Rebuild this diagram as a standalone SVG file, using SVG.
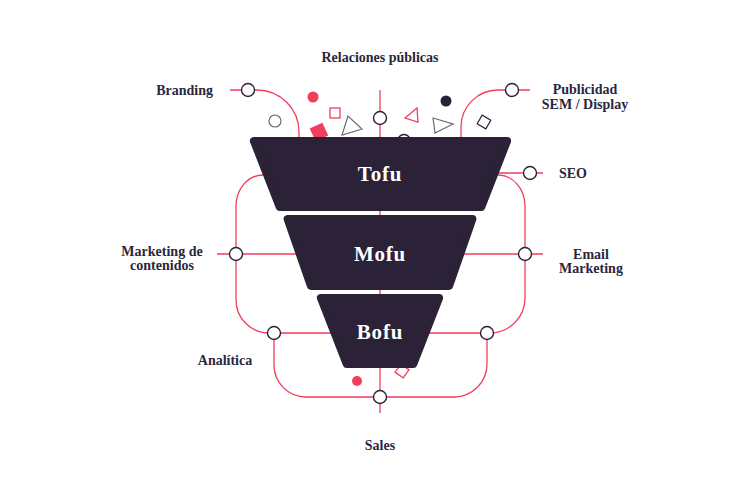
<svg xmlns="http://www.w3.org/2000/svg" width="746" height="501" viewBox="0 0 746 501">
<style>
.ln{fill:none;stroke:#f23d5d;stroke-width:1.3}
.nd{fill:#fff;stroke:#2b2238;stroke-width:1.4}
.fn{fill:#2b2238;stroke:#2b2238;stroke-width:8;stroke-linejoin:round}
.lb{font-family:"Liberation Serif","DejaVu Serif",serif;font-weight:bold;font-size:14px;fill:#2b2640}
.st{font-family:"Liberation Serif","DejaVu Serif",serif;font-weight:bold;font-size:21px;fill:#ffffff;letter-spacing:0.8px}
.gr{fill:none;stroke:#6b6b75;stroke-width:1.2}
.rs{fill:none;stroke:#f23d5d;stroke-width:1.3}
</style>
<rect width="746" height="501" fill="#ffffff"/>
<g id="connectors">
<path class="ln" d="M380,90 V413"/>
<path class="ln" d="M230,90 H257 A42,42 0 0 1 299,132 V140"/>
<path class="ln" d="M530,90 H498 A37,37 0 0 0 461,127 V140"/>
<path class="ln" d="M495,173 H543"/>
<path class="ln" d="M217,254 H300"/>
<path class="ln" d="M460,254 H543"/>
<path class="ln" d="M274,333 H335"/>
<path class="ln" d="M425,333 H487"/>
<path class="ln" d="M263,175 A27,31 0 0 0 236,206 V300 A33,33 0 0 0 269,333 H274 V365 A32,32 0 0 0 306,397 H454 A33,33 0 0 0 487,364 V333 H490 A35,35 0 0 0 525,298 V206 A27,31 0 0 0 498,175"/>
</g>
<g id="decorations">
<circle cx="275" cy="121" r="6" class="gr"/>
<circle cx="313" cy="97" r="5.5" fill="#f23d5d"/>
<rect x="330" y="108" width="10" height="10" class="rs"/>
<rect x="312" y="125" width="14" height="14" fill="#f23d5d" transform="rotate(-25 319 132)"/>
<polygon points="348,116 342,135 362,129" class="gr"/>
<polygon points="417,108 405,118 418,122" class="rs"/>
<circle cx="446" cy="101" r="5.5" fill="#2b2238"/>
<polygon points="433,118 435,133 453,124" class="gr"/>
<rect x="479" y="117" width="10" height="10" fill="none" stroke="#2b2238" stroke-width="1.2" transform="rotate(30 484 122)"/>
<circle cx="404" cy="141" r="6.5" class="nd"/>
<circle cx="357" cy="381" r="5" fill="#f23d5d"/>
<rect x="397" y="366" width="10" height="10" class="rs" transform="rotate(35 402 371)"/>
</g>
<g id="tofu">
<polygon class="fn" points="253.9,141 507.1,141 481.3,207 279.7,207"/>
<text class="st" x="380" y="181" text-anchor="middle">Tofu</text>
</g>
<g id="mofu">
<polygon class="fn" points="287.6,219 472.4,219 449.1,286 310.9,286"/>
<text class="st" x="380" y="261" text-anchor="middle">Mofu</text>
</g>
<g id="bofu">
<polygon class="fn" points="320.9,298 439.1,298 413.3,364 346.7,364"/>
<text class="st" x="380" y="339" text-anchor="middle">Bofu</text>
</g>
<g id="relaciones">
<circle cx="380" cy="118" r="6.5" class="nd"/>
<text class="lb" x="380" y="62" text-anchor="middle">Relaciones públicas</text>
</g>
<g id="branding">
<circle cx="248" cy="90" r="6.5" class="nd"/>
<text class="lb" x="213" y="95" text-anchor="end">Branding</text>
</g>
<g id="publicidad">
<circle cx="512" cy="90" r="6.5" class="nd"/>
<text class="lb" x="585" y="94" text-anchor="middle">Publicidad</text>
<text class="lb" x="585" y="109" text-anchor="middle">SEM / Display</text>
</g>
<g id="seo">
<circle cx="530" cy="173" r="6.5" class="nd"/>
<text class="lb" x="559" y="178">SEO</text>
</g>
<g id="contenidos">
<circle cx="236" cy="254" r="6.5" class="nd"/>
<text class="lb" x="162" y="256" text-anchor="middle">Marketing de</text>
<text class="lb" x="162" y="270" text-anchor="middle">contenidos</text>
</g>
<g id="email">
<circle cx="525" cy="254" r="6.5" class="nd"/>
<text class="lb" x="591" y="259" text-anchor="middle">Email</text>
<text class="lb" x="591" y="273" text-anchor="middle">Marketing</text>
</g>
<g id="analitica">
<circle cx="274" cy="333" r="6.5" class="nd"/>
<text class="lb" x="225" y="365" text-anchor="middle">Analítica</text>
</g>
<g id="sales">
<circle cx="487" cy="333" r="6.5" class="nd"/>
<circle cx="380" cy="397" r="6.5" class="nd"/>
<text class="lb" x="380" y="450" text-anchor="middle">Sales</text>
</g>
</svg>
